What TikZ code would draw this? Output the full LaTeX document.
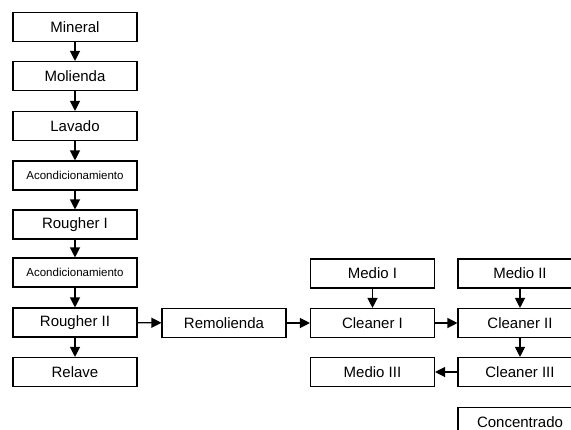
\documentclass[tikz,border=0pt]{standalone}
\usepackage{fontspec}
\setmainfont{Liberation Sans}
\usetikzlibrary{arrows.meta}
\begin{document}
\begin{tikzpicture}[x=1pt,y=-1pt,
  box/.style={draw,line width=1.1pt,minimum width=124pt,minimum height=29pt,inner sep=0pt,font=\fontsize{15}{17}\selectfont},
  smallbox/.style={box,font=\fontsize{11.5}{13}\selectfont},
  arr/.style={line width=1.2pt,-{Triangle[length=10pt,width=10pt]}}]
\clip (0,0) rectangle (571,429);
\useasboundingbox (0,0) rectangle (571,429);
\node[box] (min) at (75,27) {Mineral};
\node[box] (mol) at (75,76) {Molienda};
\node[box] (lav) at (75,126) {Lavado};
\node[smallbox] (ac1) at (75,175.5) {Acondicionamiento};
\node[box] (r1) at (75,224.5) {Rougher I};
\node[smallbox] (ac2) at (75,272.5) {Acondicionamiento};
\node[box] (r2) at (75,322.5) {Rougher II};
\node[box] (rel) at (75,372) {Relave};
\node[box] (rem) at (224,323) {Remolienda};
\node[box] (m1) at (372.5,273.5) {Medio I};
\node[box] (c1) at (372.5,323) {Cleaner I};
\node[box] (m3) at (372.5,372) {Medio III};
\node[box] (m2) at (520,273.5) {Medio II};
\node[box] (c2) at (520,323) {Cleaner II};
\node[box] (c3) at (520,372) {Cleaner III};
\node[box] (con) at (520,422) {Concentrado};
\draw[arr] (min) -- (mol);
\draw[arr] (mol) -- (lav);
\draw[arr] (lav) -- (ac1);
\draw[arr] (ac1) -- (r1);
\draw[arr] (r1) -- (ac2);
\draw[arr] (ac2) -- (r2);
\draw[arr] (r2) -- (rel);
\draw[arr] (r2) -- (rem);
\draw[arr] (rem) -- (c1);
\draw[arr] (m1) -- (c1);
\draw[arr] (c1) -- (c2);
\draw[arr] (m2) -- (c2);
\draw[arr] (c2) -- (c3);
\draw[arr] (c3) -- (m3);
\end{tikzpicture}
\end{document}
